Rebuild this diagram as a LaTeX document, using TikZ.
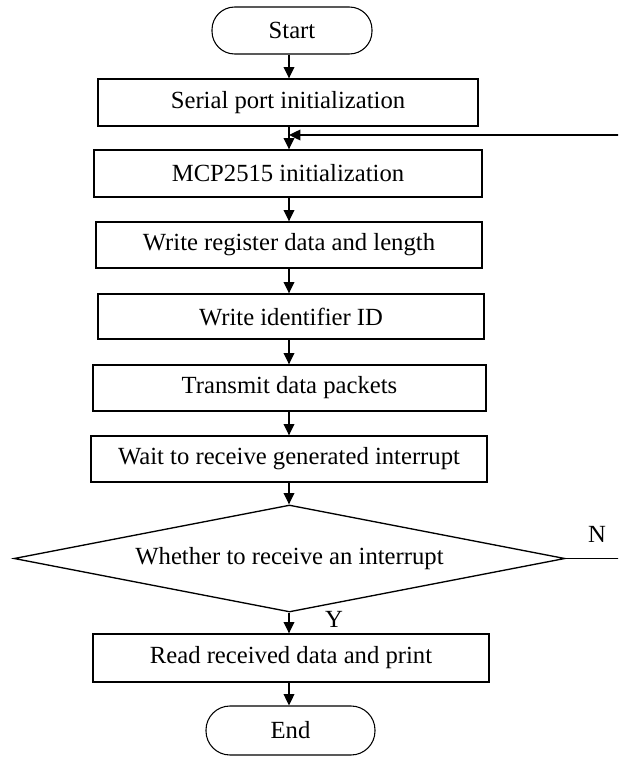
\documentclass[tikz,border=0pt]{standalone}
\usepackage{fontspec}
\setmainfont{Liberation Serif}
\usetikzlibrary{shapes.geometric,arrows.meta}
\tikzset{
  px/.style={x=0.75pt,y=-0.75pt},
  procbox/.style={draw,line width=1pt,rectangle,inner sep=0pt,minimum height=35pt},
  term/.style={draw,line width=0.8pt,rectangle,rounded corners=17pt,inner sep=0pt},
  decbox/.style={draw,line width=1pt,diamond,inner sep=0pt},
  lbl/.style={inner sep=0pt},
  flow/.style={line width=1pt,-{Triangle[length=8.5pt,width=8pt]}},
  plain/.style={line width=1pt}
}
\begin{document}
\begin{tikzpicture}[px,font=\fontsize{18.5}{22}\selectfont]
\useasboundingbox (0,0) rectangle (618,757);
\clip (0,0) rectangle (618,757);
\node[term,minimum width=120pt,minimum height=35.25pt] (start) at (292,30.5) {Start};
\node[procbox,minimum width=285pt,minimum height=35.25pt] (serial) at (288,102.5) {Serial port initialization};
\node[procbox,minimum width=291pt,minimum height=35.25pt] (mcp) at (288,173.5) {MCP2515 initialization};
\node[procbox,minimum width=289.5pt,minimum height=34.5pt] (wreg) at (289,245) {Write register data and length};
\node[procbox,minimum width=289.5pt,minimum height=33.75pt] (wid) at (291,316.5) {Write identifier ID};
\node[procbox,minimum width=294.75pt,minimum height=34.5pt] (tx) at (289.5,388) {Transmit data packets};
\node[procbox,minimum width=297pt,minimum height=34.5pt] (wait) at (289,459) {Wait to receive generated interrupt};
\node[decbox,minimum width=413.25pt,minimum height=80.25pt] (dec) at (289.5,558.5) {};
\node[lbl] (dectext) at (dec.center) {Whether to receive an interrupt};
\node[procbox,minimum width=297pt,minimum height=36pt] (read) at (291,658) {Read received data and print};
\node[term,minimum width=126.75pt,minimum height=36.75pt,rounded corners=18pt] (end) at (290.5,730.5) {End};
\node[lbl] (ylbl) at (334,619) {Y};
\node[lbl] (nlbl) at (597,534) {N};
\coordinate (fbr) at (640,558.5);
\coordinate (fbt) at (640,135);
\coordinate (join) at (289,135);
\draw[flow] (start.south -| 289,0) -- (serial.north -| 289,0);
\draw[flow] (serial.south -| 289,0) -- (mcp.north -| 289,0);
\draw[flow] (mcp.south -| 289,0) -- (wreg.north -| 289,0);
\draw[flow] (wreg.south -| 289,0) -- (wid.north -| 289,0);
\draw[flow] (wid.south -| 289,0) -- (tx.north -| 289,0);
\draw[flow] (tx.south -| 289,0) -- (wait.north -| 289,0);
\draw[flow] (wait.south -| 289,0) -- (dec.north -| 289,0);
\draw[flow] (dec.south -| 289,0) -- (read.north -| 289,0);
\draw[flow] (read.south -| 289,0) -- (end.north -| 289,0);
\draw[flow] (dec.east) -- (fbr) -- (fbt) -- (join);
\end{tikzpicture}
\end{document}
